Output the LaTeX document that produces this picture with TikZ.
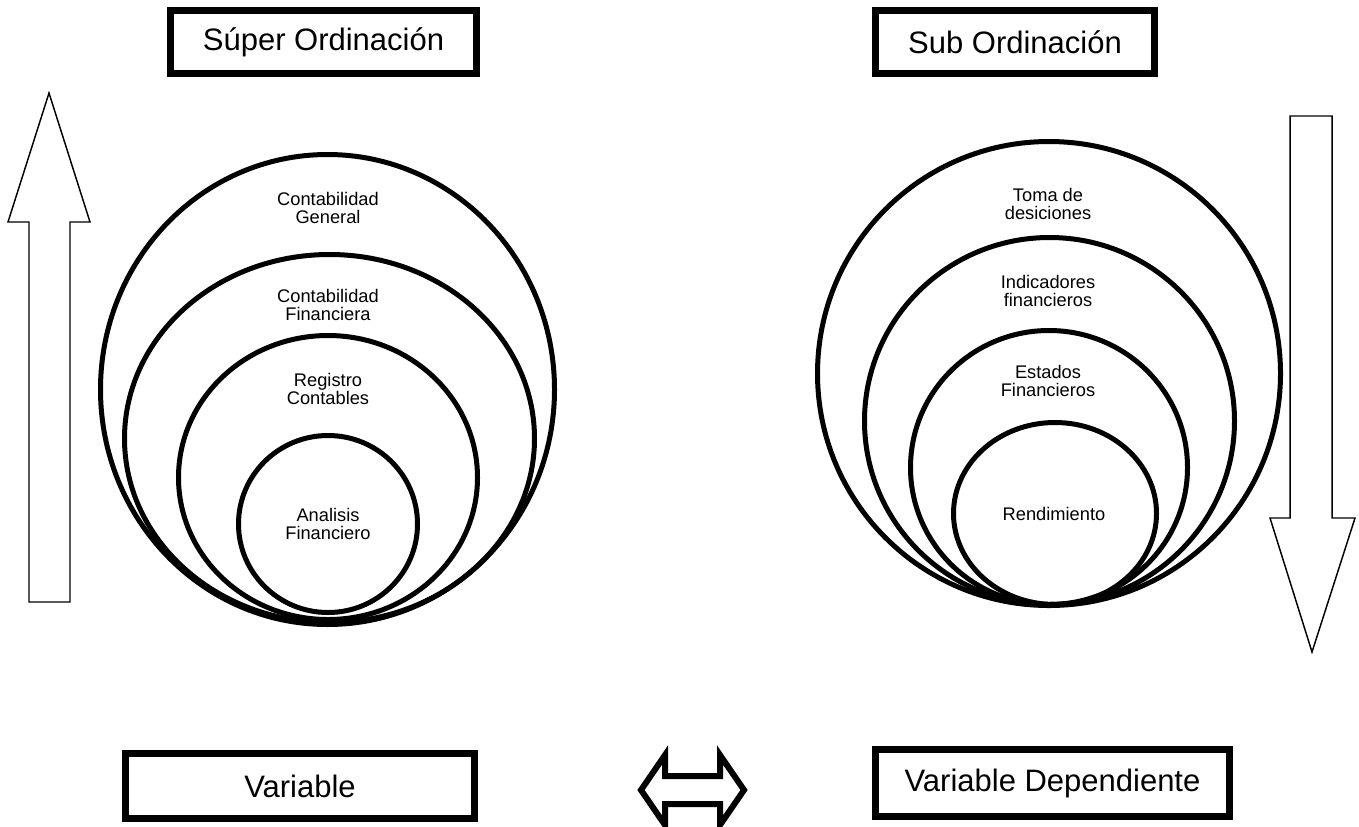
\documentclass[tikz,border=0pt]{standalone}
\usepackage{fontspec}
\setmainfont{Liberation Sans}
\usetikzlibrary{shapes.geometric}
\begin{document}
\begin{tikzpicture}[x=0.75pt,y=-0.75pt,
  bigbox/.style={draw, line width=5.25pt, rectangle, inner sep=0pt, font=\fontsize{23.25}{26}\selectfont},
  ring/.style={draw, line width=3.75pt, ellipse, inner sep=0pt},
  lbl/.style={align=center, inner sep=0pt, font=\fontsize{13.7}{13.5}\selectfont},
  thinarrow/.style={draw, line width=1.1pt, line join=miter, fill=white},
  dblarrow/.style={draw, line width=4.5pt, line join=miter}]
\useasboundingbox (0,0) rectangle (1359,826);
% boxes
\node[bigbox, minimum width=229.5pt, minimum height=47.25pt] (sup) at (323.5,42) {Súper Ordinación};
\node[bigbox, minimum width=209.25pt, minimum height=47.25pt] (sub) at (1015,42) {Sub Ordinación};
\node[bigbox, minimum width=261.75pt, minimum height=48.75pt] (var) at (300,786) {Variable};
\node[bigbox, minimum width=265.5pt, minimum height=50.25pt] (dep) at (1052.5,783) {Variable Dependiente};
% left circles
\node[ring, minimum width=340.5pt, minimum height=352.5pt] (c1) at (327.5,389.5) {};
\node[ring, minimum width=307.5pt, minimum height=276pt] (c2) at (329.5,438.5) {};
\node[ring, minimum width=224.25pt, minimum height=213pt] (c3) at (328,477.5) {};
\node[ring, minimum width=134.25pt, minimum height=132.75pt] (c4) at (328,524) {};
\node[lbl] (l1) at (328,208) {Contabilidad\\General};
\node[lbl] (l2) at (328,305) {Contabilidad\\Financiera};
\node[lbl] (l3) at (328,389) {Registro\\Contables};
\node[lbl] (l4) at (328,524) {Analisis\\Financiero};
% right circles
\node[ring, minimum width=347.25pt, minimum height=348pt] (d1) at (1049,373.5) {};
\node[ring, minimum width=277.5pt, minimum height=275.25pt] (d2) at (1049.5,421) {};
\node[ring, minimum width=207.75pt, minimum height=205.5pt] (d3) at (1049,467.5) {};
\node[ring, minimum width=152.25pt, minimum height=136.5pt] (d4) at (1055,513.5) {};
\node[lbl] (r1) at (1048,204) {Toma de\\desiciones};
\node[lbl] (r2) at (1048,291) {Indicadores\\financieros};
\node[lbl] (r3) at (1048,381) {Estados\\Financieros};
\node[lbl] (r4) at (1054,514) {Rendimiento};
% side arrows
\draw[thinarrow] (49,93) -- (90,222) -- (70,222) -- (70,602) -- (29,602) -- (29,222) -- (8,222) -- cycle;
\draw[thinarrow] (1290,116) -- (1332,116) -- (1332,518) -- (1355,518) -- (1312,652) -- (1270,518) -- (1290,518) -- cycle;
% double arrow
\draw[dblarrow] (641,790) -- (665,755) -- (665,776) -- (720,776) -- (720,755) -- (744,790) -- (720,825) -- (720,804) -- (665,804) -- (665,825) -- cycle;
\end{tikzpicture}
\end{document}
